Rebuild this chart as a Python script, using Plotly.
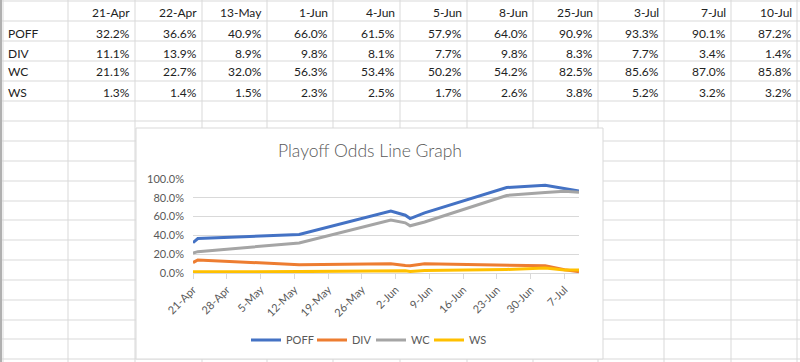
import plotly.graph_objects as go

# ---------------- data ----------------
date_labels = ["21-Apr", "22-Apr", "13-May", "1-Jun", "4-Jun", "5-Jun",
               "8-Jun", "25-Jun", "3-Jul", "7-Jul", "10-Jul"]
dates = ["2023-04-21", "2023-04-22", "2023-05-13", "2023-06-01", "2023-06-04",
         "2023-06-05", "2023-06-08", "2023-06-25", "2023-07-03", "2023-07-07",
         "2023-07-10"]
series_names = ["POFF", "DIV", "WC", "WS"]
poff = [32.2, 36.6, 40.9, 66.0, 61.5, 57.9, 64.0, 90.9, 93.3, 90.1, 87.2]
div = [11.1, 13.9, 8.9, 9.8, 8.1, 7.7, 9.8, 8.3, 7.7, 3.4, 1.4]
wc = [21.1, 22.7, 32.0, 56.3, 53.4, 50.2, 54.2, 82.5, 85.6, 87.0, 85.8]
ws = [1.3, 1.4, 1.5, 2.3, 2.5, 1.7, 2.6, 3.8, 5.2, 3.2, 3.2]
series_values = [poff, div, wc, ws]
colors = ["#4472C4", "#ED7D31", "#A5A5A5", "#FFC000"]
legend_widths = [21, 14, 13, 18]

W, H = 800, 362
FONT = "Lato"
TXT = "#222222"
AX = "#595959"


def px(x):
    return x / W


def py(y):
    return 1 - y / H


fig = go.Figure()
for name, vals, col, lw in zip(series_names, series_values, colors, legend_widths):
    fig.add_trace(go.Scatter(x=dates, y=vals, name=name, mode="lines",
                             line=dict(color=col, width=3), legendwidth=lw))

shapes = []
# spreadsheet grid
col_edges = [3, 68, 135, 202, 267, 333, 400, 467, 533, 598, 664, 731, 797]
row_edges = [1, 21, 41, 61, 81, 101, 121, 141, 161, 181, 201, 220, 240, 260,
             280, 300, 320, 339, 359]
grid_col = "#D9D9D9"
for x in col_edges:
    shapes.append(dict(type="line", xref="paper", yref="paper", x0=px(x), x1=px(x),
                       y0=0, y1=1, line=dict(color=grid_col, width=1), layer="below"))
for y in row_edges:
    shapes.append(dict(type="line", xref="paper", yref="paper", x0=0, x1=1,
                       y0=py(y), y1=py(y), line=dict(color=grid_col, width=1), layer="below"))
shapes.append(dict(type="line", xref="paper", yref="paper", x0=px(1), x1=px(1),
                   y0=0, y1=1, line=dict(color="#B0B0B0", width=2), layer="below"))
# chart box
shapes.append(dict(type="rect", xref="paper", yref="paper", x0=px(136), x1=px(603),
                   y0=py(359), y1=py(128), fillcolor="white",
                   line=dict(color="#D9D9D9", width=1), layer="below"))

annotations = []
row_y = [13, 33, 53, 72, 92]
# header row
for i, lab in enumerate(date_labels):
    annotations.append(dict(text=lab, x=px(col_edges[i + 2] - 3), y=py(row_y[0]),
                            xref="paper", yref="paper", xanchor="right", yanchor="middle",
                            showarrow=False, font=dict(family=FONT, size=12, color=TXT)))
for r, (name, vals) in enumerate(zip(series_names, series_values)):
    annotations.append(dict(text=name, x=px(6), y=py(row_y[r + 1]),
                            xref="paper", yref="paper", xanchor="left", yanchor="middle",
                            showarrow=False, font=dict(family=FONT, size=12, color=TXT)))
    for i, v in enumerate(vals):
        annotations.append(dict(text=f"{v:.1f}%", x=px(col_edges[i + 2] - 3), y=py(row_y[r + 1]),
                                xref="paper", yref="paper", xanchor="right", yanchor="middle",
                                showarrow=False, font=dict(family=FONT, size=12, color=TXT)))

fig.update_layout(
    width=W, height=H,
    margin=dict(l=0, r=0, t=0, b=0, autoexpand=False),
    paper_bgcolor="white",
    plot_bgcolor="rgba(0,0,0,0)",
    shapes=shapes,
    annotations=annotations,
    title=dict(text="Playoff Odds Line Graph", x=px(370), xanchor="center",
               y=py(151), yanchor="middle", automargin=False,
               font=dict(family=FONT, size=17.5, color=AX, weight=300)),
    xaxis=dict(domain=[px(193), px(579)], type="date", automargin=False,
               range=[dates[0], dates[-1]],
               tickmode="linear", tick0=dates[0], dtick=7 * 86400000,
               tickformat="%-d-%b", tickangle=-45,
               tickfont=dict(family=FONT, size=11, color=AX),
               showgrid=False, showline=True, linecolor="#D9D9D9",
               ticks="outside", ticklen=5, tickcolor="#D9D9D9", zeroline=False),
    yaxis=dict(domain=[py(273), py(179)], range=[0, 100], dtick=20, automargin=False,
               tickformat=".1f", ticksuffix="%",
               tickfont=dict(family=FONT, size=11, color=AX),
               showgrid=True, gridcolor="#D9D9D9", gridwidth=1,
               zeroline=False, showline=False, ticklabelstandoff=8),
    legend=dict(orientation="h", x=px(246), xanchor="left", y=py(340),
                yanchor="middle", font=dict(family=FONT, size=11, color=AX),
                bgcolor="rgba(0,0,0,0)", itemwidth=30),
    showlegend=True,
)

fig.write_html("out.html", config={"displayModeBar": False},
               post_script="document.body.style.margin='0';document.body.style.padding='0';")
